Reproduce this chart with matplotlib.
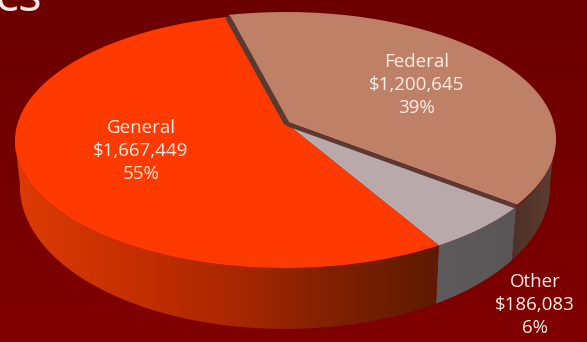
import numpy as np
import matplotlib
matplotlib.use("Agg")
import matplotlib.pyplot as plt
from matplotlib.colors import LinearSegmentedColormap
from matplotlib.patches import Polygon

# sources, clockwise from the back edge of the pie
categorias = ["Federal", "Other", "General"]
valores = [1200645, 186083, 1667449]
percentuais = ["39%", "6%", "55%"]

cor_fundo = ["#6c0000", "#800000"]
cor_topo = {"Federal": "#bf8068", "Other": "#b9a9aa", "General": "#ff3a00"}
cor_lado = {
    "Federal": ["#4e3026", "#5c3e32"],
    "Other": ["#5e5a5c", "#5a5658"],
    "General": ["#dc3c04", "#c83000", "#ac2800", "#802000", "#5e1a00"],
}

# perspective of the pie disc, in pixels
CX, CY = 285, 124
A, B, K = 267.6, 124.7, 0.134
ALTURA, ENCOLHE = 58, 0.982
INICIO = -14.0
DESLOC_FEDERAL = (1, -2)


def projetar(theta):
    # theta in degrees, clockwise from the top of the disc
    t = np.radians(theta)
    u, v = np.sin(t), -np.cos(t)
    w = 1 - K * v
    return CX + A * u / w, CY + B * v / w


def base(theta, x, y):
    # the wall looks shorter towards the sides of the disc
    v = -np.cos(np.radians(theta))
    return CX + (x - CX) * ENCOLHE, y + ALTURA * (0.72 + 0.33 * v)


fig = plt.figure(figsize=(5.87, 3.42), dpi=100)
ax = fig.add_axes([0, 0, 1, 1])
ax.axis("off")

cm_fundo = LinearSegmentedColormap.from_list("fundo", cor_fundo)
ax.imshow(np.linspace(0, 1, 64).reshape(-1, 1), cmap=cm_fundo, aspect="auto",
          extent=[0, 587, 342, 0], zorder=0)

total = sum(valores)
ang = INICIO
faixas = {}
for nome, val in zip(categorias, valores):
    fim = ang + 360 * val / total
    faixas[nome] = (ang, fim)
    ang = fim

# side walls first, only the part of the rim facing the viewer
for nome in categorias:
    a0, a1 = faixas[nome]
    ini, fi = max(a0, 97), min(a1, 263)
    if ini >= fi:
        continue
    th = np.linspace(ini, fi, 120)
    xs, ys = projetar(th)
    xb, yb = base(th, xs, ys)
    pts = np.r_[np.c_[xs, ys], np.c_[xb, yb][::-1]]
    cm = LinearSegmentedColormap.from_list("lado" + nome, cor_lado[nome])
    x0, x1 = pts[:, 0].min(), pts[:, 0].max()
    y0, y1 = pts[:, 1].min(), pts[:, 1].max()
    im = ax.imshow(np.linspace(0, 1, 256).reshape(1, -1), cmap=cm, aspect="auto",
                   extent=[x0, x1, y1, y0], zorder=1)
    im.set_clip_path(Polygon(pts, closed=True, transform=ax.transData))

# top faces
for nome in categorias:
    a0, a1 = faixas[nome]
    th = np.linspace(a0, a1, 200)
    xs, ys = projetar(th)
    pts = np.r_[[[CX + 2, CY]], np.c_[xs, ys]]
    if nome == "Federal":
        pts = pts + np.array(DESLOC_FEDERAL)
    ax.add_patch(Polygon(pts, closed=True, facecolor=cor_topo[nome], edgecolor="none", zorder=2))

# dark inner wall along the Federal slice
for th, lw in zip(faixas["Federal"], [4.0, 3.0]):
    x, y = projetar(th)
    ax.plot([CX + 2, x], [CY, y], color="#5a3a30", lw=lw, solid_capstyle="butt", zorder=3)

# labels
estilo = dict(family="Open Sans", fontsize=13.5, color="#fdeee6", ha="center",
              va="center", linespacing=1.38, zorder=4)
posicoes = {"Federal": (417, 85), "General": (141, 151), "Other": (535, 305)}
for nome, val, pct in zip(categorias, valores, percentuais):
    px, py = posicoes[nome]
    ax.text(px, py, f"{nome}\n${val:,}\n{pct}", **estilo)

ax.text(42, 11, "cs", family="Open Sans", fontsize=36, color="#f4e8e4",
        ha="right", va="baseline", zorder=4)

ax.set_xlim(0, 587)
ax.set_ylim(342, 0)
fig.savefig("out.png", dpi=100)
